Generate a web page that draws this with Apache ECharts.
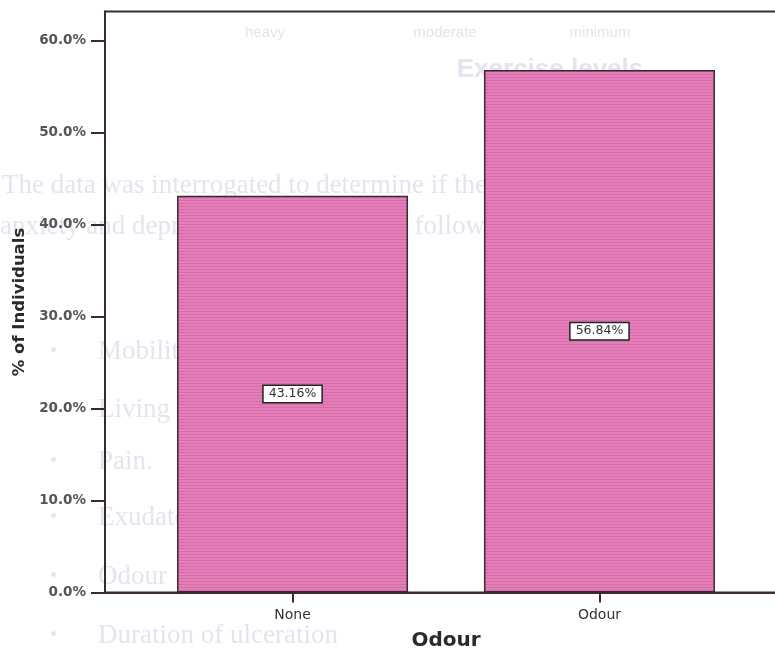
<!DOCTYPE html>
<html>
<head>
<meta charset="utf-8">
<script src="https://cdn.jsdelivr.net/npm/echarts@6/dist/echarts.min.js"></script>
<style>
  html, body { margin: 0; padding: 0; background: #ffffff; }
  #chart { width: 775px; height: 648px; }
</style>
</head>
<body>
<div id="chart"></div>
<script>
// Percentage of individuals by odour category
const categories = ['None', 'Odour'];
const percentages = [43.16, 56.84];
const yTicks = [0, 10, 20, 30, 40, 50, 60];

// Faint text from the page behind the chart
const backText = [
  { t: 'heavy', x: 265, y: 33, s: 15, f: 'Liberation Sans' },
  { t: 'moderate', x: 445, y: 33, s: 15, f: 'Liberation Sans' },
  { t: 'minimum', x: 600, y: 33, s: 15, f: 'Liberation Sans' },
  { t: 'Exercise levels', x: 550, y: 70, s: 26, f: 'Liberation Sans', b: true },
  { t: 'The data was interrogated to determine if there were any', x: 2, y: 186, s: 27, f: 'Liberation Serif', left: true },
  { t: 'anxiety and depression and any of the following. The results', x: 0, y: 227, s: 27, f: 'Liberation Serif', left: true },
  { t: '•', x: 50, y: 352, s: 20, f: 'Liberation Serif', left: true },
  { t: 'Mobility', x: 98, y: 352, s: 27, f: 'Liberation Serif', left: true },
  { t: '•', x: 50, y: 410, s: 20, f: 'Liberation Serif', left: true },
  { t: 'Living alone', x: 98, y: 410, s: 27, f: 'Liberation Serif', left: true },
  { t: '•', x: 50, y: 462, s: 20, f: 'Liberation Serif', left: true },
  { t: 'Pain.', x: 98, y: 462, s: 27, f: 'Liberation Serif', left: true },
  { t: '•', x: 50, y: 518, s: 20, f: 'Liberation Serif', left: true },
  { t: 'Exudate', x: 98, y: 518, s: 27, f: 'Liberation Serif', left: true },
  { t: '•', x: 50, y: 577, s: 20, f: 'Liberation Serif', left: true },
  { t: 'Odour', x: 98, y: 577, s: 27, f: 'Liberation Serif', left: true },
  { t: '•', x: 50, y: 636, s: 20, f: 'Liberation Serif', left: true },
  { t: 'Duration of ulceration', x: 98, y: 636, s: 27, f: 'Liberation Serif', left: true }
];

// Striped pink fill for the bars
function stripeFill() {
  const c = document.createElement('canvas');
  c.width = 8; c.height = 3;
  const g = c.getContext('2d');
  g.fillStyle = '#e27fb8';
  g.fillRect(0, 0, 8, 3);
  g.fillStyle = '#d96ca8';
  g.fillRect(0, 2, 8, 1);
  return { image: c, repeat: 'repeat' };
}

const chart = echarts.init(document.getElementById('chart'), null, { renderer: 'canvas' });
const frame = '#3a2a30';

chart.setOption({
  animation: false,
  backgroundColor: '#ffffff',
  graphic: {
    elements: backText.map(d => ({
      type: 'text',
      x: d.x,
      y: d.y,
      z: -10,
      silent: true,
      style: {
        text: d.t,
        fill: '#e1e5ef',
        font: (d.b ? 'bold ' : '') + d.s + 'px "' + d.f + '"',
        textAlign: d.left ? 'left' : 'center',
        textVerticalAlign: 'middle'
      }
    }))
  },
  grid: {
    left: 105,
    top: 11.5,
    right: -12,
    bottom: 55.5,
    outerBoundsMode: 'none',
    containLabel: false,
    show: true,
    borderColor: frame,
    borderWidth: 2,
    backgroundColor: 'transparent'
  },
  xAxis: {
    type: 'value',
    min: -0.611,
    max: 1.611,
    name: 'Odour',
    nameLocation: 'middle',
    nameGap: 38.5,
    nameTextStyle: { fontFamily: 'DejaVu Sans', fontWeight: 'bold', fontSize: 20, color: '#2a2a2a' },
    splitLine: { show: false },
    axisLine: { show: true, onZero: false, lineStyle: { color: frame, width: 2 } },
    axisTick: { show: true, length: 10, customValues: categories.map((c, i) => i), lineStyle: { color: frame, width: 2 } },
    axisLabel: {
      customValues: categories.map((c, i) => i),
      formatter: v => categories[Math.round(v)],
      margin: 15.5,
      fontFamily: 'DejaVu Sans',
      fontSize: 14,
      color: '#333333'
    }
  },
  yAxis: {
    type: 'value',
    min: 0,
    max: 63.2,
    name: '% of Individuals',
    nameLocation: 'middle',
    nameGap: 76,
    nameTextStyle: { fontFamily: 'DejaVu Sans', fontWeight: 'bold', fontSize: 16.5, color: '#2a2a2a' },
    splitLine: { show: false },
    axisLine: { show: true, onZero: false, lineStyle: { color: frame, width: 2 } },
    axisTick: { show: true, length: 14, customValues: yTicks, lineStyle: { color: frame, width: 2 } },
    axisLabel: {
      customValues: yTicks,
      formatter: v => v.toFixed(1) + '%',
      margin: 19,
      fontFamily: 'DejaVu Sans',
      fontWeight: 'bold',
      fontSize: 13.5,
      color: '#555555'
    }
  },
  series: [{
    type: 'bar',
    barWidth: 231,
    data: percentages.map((v, i) => [i, v]),
    itemStyle: {
      color: stripeFill(),
      borderColor: frame,
      borderWidth: 1.5
    },
    label: {
      show: true,
      position: 'inside',
      formatter: p => p.value[1].toFixed(2) + '%',
      fontFamily: 'DejaVu Sans',
      fontSize: 12.5,
      lineHeight: 13,
      color: '#333333',
      backgroundColor: '#ffffff',
      borderColor: '#222222',
      borderWidth: 1.5,
      padding: [2, 5, 1, 5]
    }
  }]
});
</script>
</body>
</html>
